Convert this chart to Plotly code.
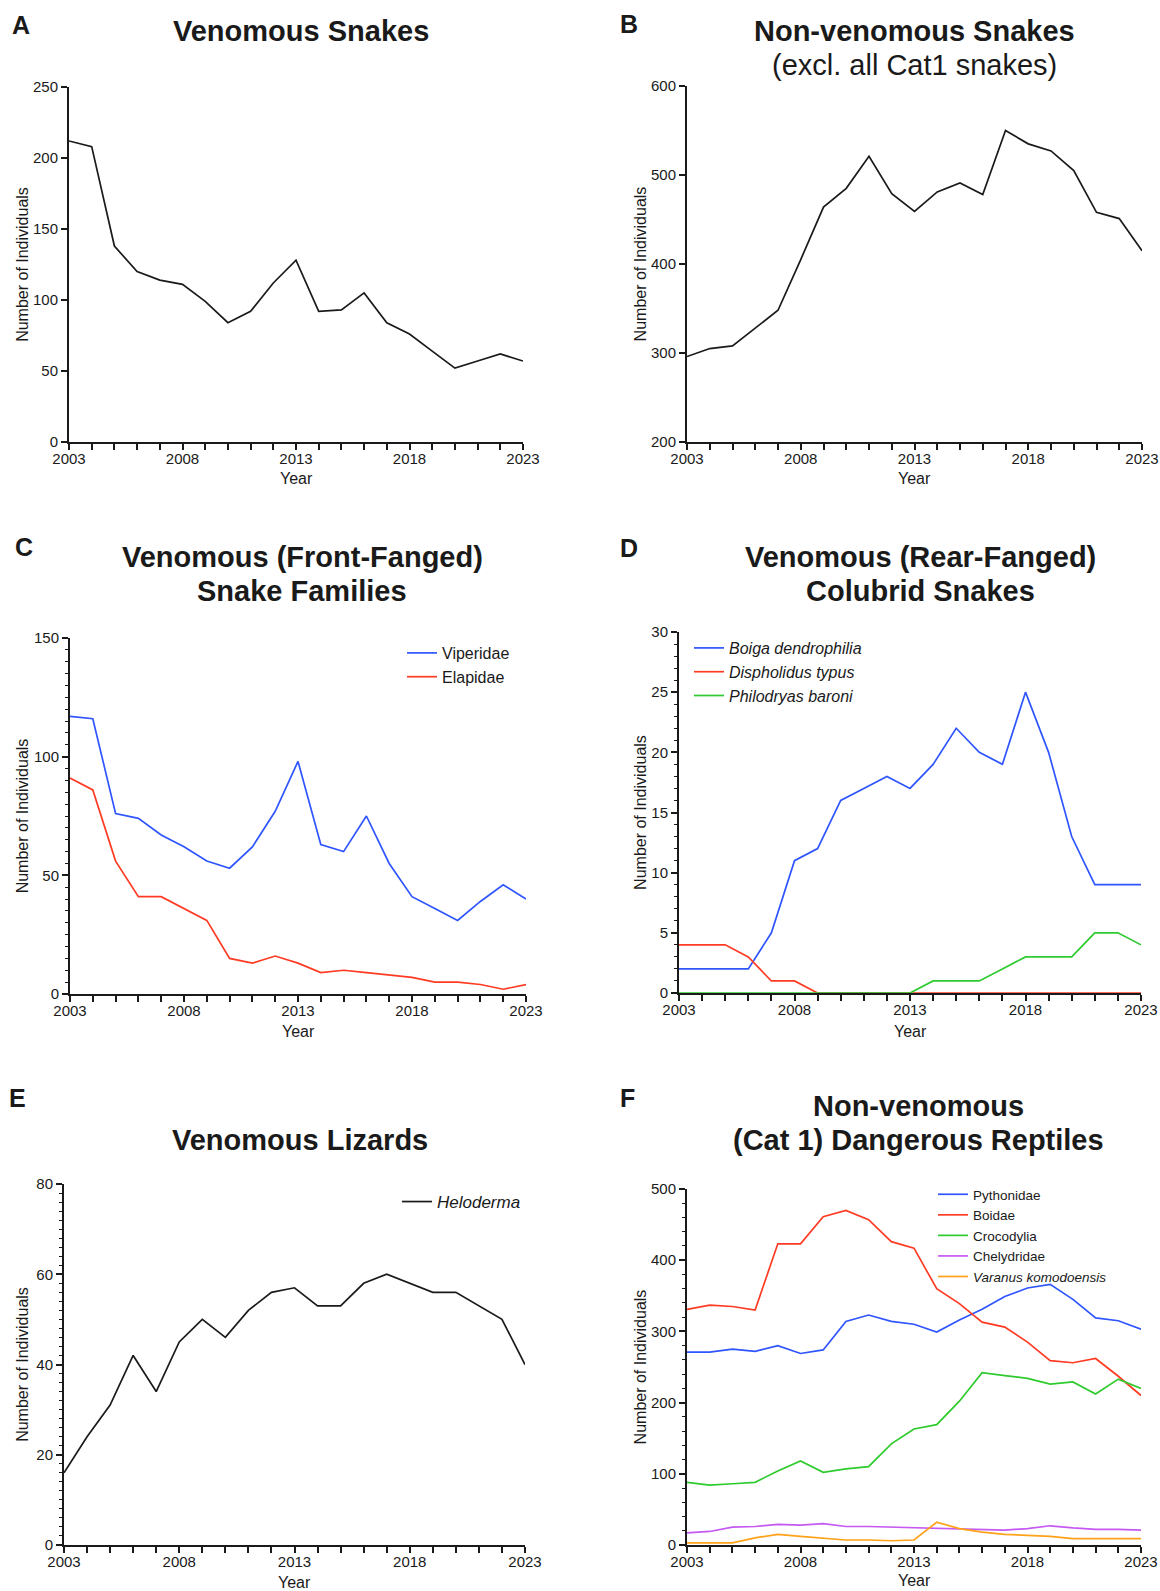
import plotly.graph_objects as go

W, H = 1160, 1591

years = list(range(2003, 2024))

venomous_snakes = [212, 208, 138, 120, 114, 111, 99, 84, 92, 112, 128, 92, 93, 105, 84, 76, 64, 52, 57, 62, 57]
nonvenomous_snakes = [296, 305, 308, 328, 348, 405, 464, 485, 521, 479, 459, 481, 491, 478, 550, 535, 527, 505, 458, 451, 415]

viperidae = [117, 116, 76, 74, 67, 62, 56, 53, 62, 77, 98, 63, 60, 75, 55, 41, 36, 31, 39, 46, 40]
elapidae = [91, 86, 56, 41, 41, 36, 31, 15, 13, 16, 13, 9, 10, 9, 8, 7, 5, 5, 4, 2, 4]

boiga = [2, 2, 2, 2, 5, 11, 12, 16, 17, 18, 17, 19, 22, 20, 19, 25, 20, 13, 9, 9, 9]
dispholidus = [4, 4, 4, 3, 1, 1, 0, 0, 0, 0, 0, 0, 0, 0, 0, 0, 0, 0, 0, 0, 0]
philodryas = [0, 0, 0, 0, 0, 0, 0, 0, 0, 0, 0, 1, 1, 1, 2, 3, 3, 3, 5, 5, 4]

heloderma = [16, 24, 31, 42, 34, 45, 50, 46, 52, 56, 57, 53, 53, 58, 60, 58, 56, 56, 53, 50, 40]

pythonidae = [271, 271, 275, 272, 280, 269, 274, 314, 323, 314, 310, 299, 316, 331, 349, 361, 366, 345, 319, 315, 303]
boidae = [331, 337, 335, 330, 423, 423, 461, 470, 457, 426, 417, 360, 339, 313, 306, 285, 259, 256, 262, 237, 210]
crocodylia = [88, 84, 86, 88, 104, 118, 102, 107, 110, 142, 163, 169, 202, 242, 238, 234, 226, 229, 212, 233, 220]
chelydridae = [17, 19, 25, 26, 29, 28, 30, 26, 26, 25, 25, 24, 22, 21, 21, 23, 27, 24, 22, 22, 21]
varanus = [3, 3, 3, 10, 15, 12, 9, 7, 7, 6, 7, 32, 23, 18, 15, 14, 12, 9, 9, 8, 9]

x_ticktext = [str(y) if (y - 2003) % 5 == 0 else "" for y in years]

BLUE = "#2f55ff"
RED = "#ff3b24"
GREEN = "#2ecb2e"
PURPLE = "#c659f2"
ORANGE = "#ffa21a"
BLACK = "#1a1a1a"
FONT = "Liberation Sans, Arial, Helvetica, sans-serif"

fig = go.Figure()

# panel boxes in pixels: (left, right, top, bottom)
panels = {
    1: (69, 523, 87, 442),
    2: (687, 1142, 86, 442),
    3: (70, 526, 638, 994),
    4: (679, 1141, 632, 993),
    5: (64, 525, 1184, 1545),
    6: (687, 1141, 1189, 1545),
}

yconf = {
    1: dict(range=[0, 250], dtick=50, minor=None, standoff=0),
    2: dict(range=[200, 600], dtick=100, minor=None, standoff=0),
    3: dict(range=[0, 150], dtick=50, minor=5, standoff=1),
    4: dict(range=[0, 30], dtick=5, minor=1, standoff=1),
    5: dict(range=[0, 80], dtick=20, minor=2, standoff=4),
    6: dict(range=[0, 500], dtick=100, minor=20, standoff=0),
}

TICKFONT = dict(size=15, color=BLACK, family=FONT)

layout_axes = {}
for i, (l, r, t, b) in panels.items():
    sfx = "" if i == 1 else str(i)
    xd = [l / W, r / W]
    yd = [1 - b / H, 1 - t / H]
    layout_axes["xaxis" + sfx] = dict(
        domain=xd, anchor="y" + sfx, range=[2003, 2023],
        tickmode="array", tickvals=years, ticktext=x_ticktext,
        ticks="outside", ticklen=6, tickwidth=1.6, tickcolor=BLACK,
        ticklabelstandoff=-4,
        showline=True, linewidth=2, linecolor=BLACK, showgrid=False, zeroline=False,
        tickfont=TICKFONT, layer="below traces", fixedrange=True, automargin=False,
    )
    yc = yconf[i]
    ya = dict(
        domain=yd, anchor="x" + sfx, range=yc["range"], tickmode="linear",
        tick0=yc["range"][0], dtick=yc["dtick"],
        ticks="outside", ticklen=6, tickwidth=1.6, tickcolor=BLACK,
        showline=True, linewidth=2, linecolor=BLACK, showgrid=False, zeroline=False,
        tickfont=TICKFONT, layer="below traces", fixedrange=True, automargin=False,
        title=dict(text="Number of Individuals", standoff=yc["standoff"],
                   font=dict(size=16, color=BLACK, family=FONT)),
    )
    if yc["minor"]:
        ya["minor"] = dict(dtick=yc["minor"], tick0=0, ticks="outside", ticklen=3.5,
                           tickwidth=1.4, tickcolor=BLACK, showgrid=False)
    layout_axes["yaxis" + sfx] = ya


def add(i, y, name, color, legend=None):
    sfx = "" if i == 1 else str(i)
    fig.add_trace(go.Scatter(
        x=years, y=y, name=name, mode="lines",
        line=dict(color=color, width=1.7),
        xaxis="x" + sfx, yaxis="y" + sfx,
        showlegend=legend is not None, legend=legend if legend else "legend",
    ))


add(1, venomous_snakes, "Venomous snakes", BLACK)
add(2, nonvenomous_snakes, "Non-venomous snakes", BLACK)
add(3, viperidae, "Viperidae", BLUE, "legend")
add(3, elapidae, "Elapidae", RED, "legend")
add(4, boiga, "<i>Boiga dendrophilia</i>", BLUE, "legend2")
add(4, dispholidus, "<i>Dispholidus typus</i>", RED, "legend2")
add(4, philodryas, "<i>Philodryas baroni</i>", GREEN, "legend2")
add(5, heloderma, "<i>Heloderma</i>", BLACK, "legend3")
add(6, pythonidae, "Pythonidae", BLUE, "legend4")
add(6, boidae, "Boidae", RED, "legend4")
add(6, crocodylia, "Crocodylia", GREEN, "legend4")
add(6, chelydridae, "Chelydridae", PURPLE, "legend4")
add(6, varanus, "<i>Varanus komodoensis</i>", ORANGE, "legend4")


def legend_at(left_px, top_px, size):
    return dict(
        x=left_px / W, y=1 - top_px / H, xanchor="left", yanchor="top",
        xref="paper", yref="paper", bgcolor="rgba(0,0,0,0)", borderwidth=0,
        font=dict(size=size, color=BLACK, family=FONT), tracegroupgap=0,
        itemclick=False, itemdoubleclick=False,
    )


annotations = []


def text(x, y, s, size, anchor="center", yanchor="middle"):
    annotations.append(dict(
        x=x / W, y=1 - y / H, xref="paper", yref="paper", text=s, showarrow=False,
        xanchor=anchor, yanchor=yanchor,
        font=dict(size=size, color=BLACK, family=FONT),
    ))


# panel letters
for letter, (x, y) in {"A": (21, 25), "B": (629, 24), "C": (24, 547),
                       "D": (629, 548), "E": (17, 1098), "F": (627, 1098)}.items():
    text(x, y, "<b>%s</b>" % letter, 25)

# titles (one annotation per line)
TS = 29
text(301, 31, "<b>Venomous Snakes</b>", TS)
text(914, 31, "<b>Non-venomous Snakes</b>", TS)
text(914, 65, "(excl. all Cat1 snakes)", TS)
text(302, 557, "<b>Venomous (Front-Fanged)</b>", TS)
text(302, 591, "<b>Snake Families</b>", TS)
text(920, 557, "<b>Venomous (Rear-Fanged)</b>", TS)
text(920, 591, "<b>Colubrid Snakes</b>", TS)
text(300, 1140, "<b>Venomous Lizards</b>", TS)
text(918, 1106, "<b>Non-venomous</b>", TS)
text(918, 1140, "<b>(Cat 1) Dangerous Reptiles</b>", TS)

# x axis titles
year_y = {1: 479, 2: 479, 3: 1031, 4: 1031, 5: 1582, 6: 1580}
for i, (l, r, t, b) in panels.items():
    text((l + r) / 2, year_y[i], "Year", 16)

fig.update_layout(
    width=W, height=H, margin=dict(l=0, r=0, t=0, b=0),
    paper_bgcolor="white", plot_bgcolor="white",
    font=dict(family=FONT, color=BLACK),
    legend=legend_at(402, 636, 16),
    legend2=legend_at(689, 631, 16),
    legend3=legend_at(397, 1184, 17),
    legend4=legend_at(933, 1179, 13.5),
    annotations=annotations,
    **layout_axes,
)

fig.write_html("out.html")
